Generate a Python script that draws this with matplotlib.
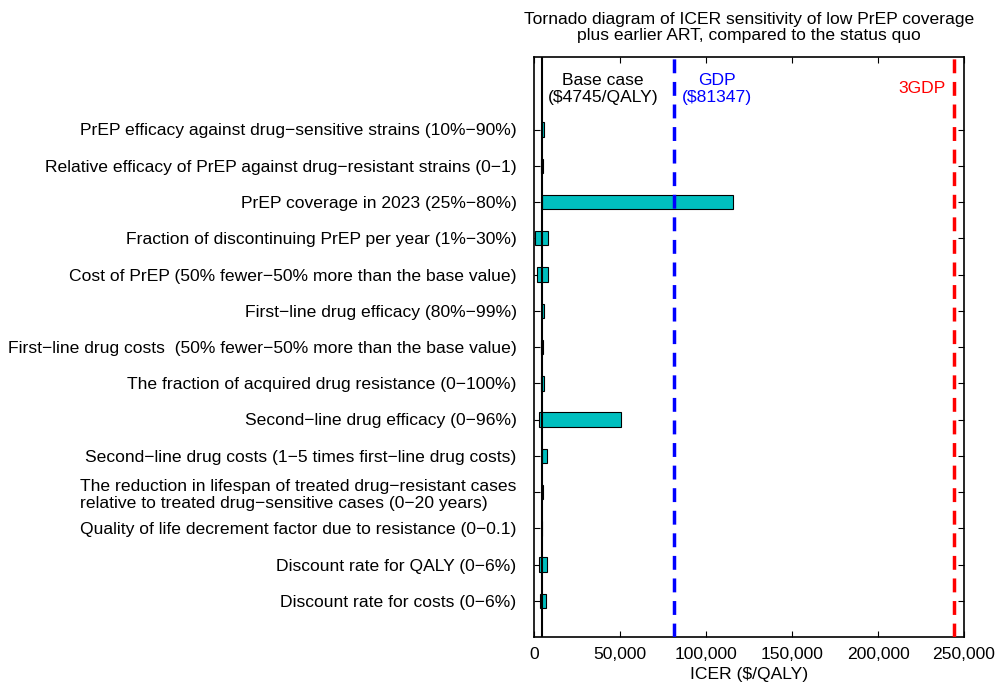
import matplotlib
matplotlib.use("Agg")
import matplotlib.pyplot as plt
from matplotlib.ticker import FuncFormatter, MultipleLocator

plt.rcParams['font.family'] = ['Liberation Sans', 'DejaVu Sans']

parameters = [
    "PrEP efficacy against drug\u2212sensitive strains (10%\u221290%)",
    "Relative efficacy of PrEP against drug\u2212resistant strains (0\u22121)",
    "PrEP coverage in 2023 (25%\u221280%)",
    "Fraction of discontinuing PrEP per year (1%\u221230%)",
    "Cost of PrEP (50% fewer\u221250% more than the base value)",
    "First\u2212line drug efficacy (80%\u221299%)",
    "First\u2212line drug costs  (50% fewer\u221250% more than the base value)",
    "The fraction of acquired drug resistance (0\u2212100%)",
    "Second\u2212line drug efficacy (0\u221296%)",
    "Second\u2212line drug costs (1\u22125 times first\u2212line drug costs)",
    "The reduction in lifespan of treated drug\u2212resistant cases\nrelative to treated drug\u2212sensitive cases (0\u221220 years)",
    "Quality of life decrement factor due to resistance (0\u22120.1)",
    "Discount rate for QALY (0\u22126%)",
    "Discount rate for costs (0\u22126%)",
]
icer_low = [4745, 4300, 4745, 600, 1550, 4745, 4000, 4100, 3100, 4745, 4500, 4700, 3100, 3300]
icer_high = [5900, 5200, 115500, 7950, 7950, 6000, 5400, 5800, 50600, 7700, 5000, 4800, 7350, 7000]

base_case = 4745
gdp = 81347
three_gdp = 3 * gdp

FS = 12.6

fig = plt.figure(figsize=(9.99, 6.86), dpi=100)
ax = fig.add_axes([534 / 999, 1 - 637 / 686, (964 - 534) / 999, (637 - 57) / 686])

ypos = list(range(1, len(parameters) + 1))
widths = [h - l for l, h in zip(icer_low, icer_high)]
ax.barh(ypos, widths, left=icer_low, height=0.4, color='#00BFBF',
        edgecolor='black', linewidth=0.8, zorder=3)

ax.axvline(base_case, color='black', linewidth=1.5, zorder=4)
ax.axvline(gdp, color='#0000FF', linewidth=2.5, linestyle=(0, (4, 2.5)), zorder=5)
ax.axvline(three_gdp, color='#FF0000', linewidth=2.5, linestyle=(0, (4, 2.5)), zorder=5)

ax.set_xlim(0, 250000)
ax.set_ylim(15, -1)
ax.set_yticks(ypos)
ax.set_yticklabels(parameters, fontsize=FS, ha='right', multialignment='left')
ax.xaxis.set_major_locator(MultipleLocator(50000))
ax.xaxis.set_major_formatter(FuncFormatter(lambda v, p: f"{int(v):,}"))
ax.tick_params(axis='x', labelsize=FS, direction='in', top=True, length=4, pad=7)
ax.tick_params(axis='y', direction='in', right=True, length=4, pad=12.5)
for s in ax.spines.values():
    s.set_linewidth(1.2)

ax.set_xlabel("ICER ($/QALY)", fontsize=FS, labelpad=4)

ax.text(40000, -0.12, "Base case\n($4745/QALY)", ha='center', va='center',
        fontsize=FS, color='black', linespacing=1.2)
ax.text(106500, -0.12, "GDP\n($81347)", ha='center', va='center',
        fontsize=FS, color='#0000FF', linespacing=1.2)
ax.text(239500, -0.12, "3GDP", ha='right', va='center', fontsize=FS, color='#FF0000')

ax.set_title("Tornado diagram of ICER sensitivity of low PrEP coverage\nplus earlier ART, compared to the status quo",
             fontsize=FS, pad=12, linespacing=1.1)

fig.savefig("out.png", dpi=100)
